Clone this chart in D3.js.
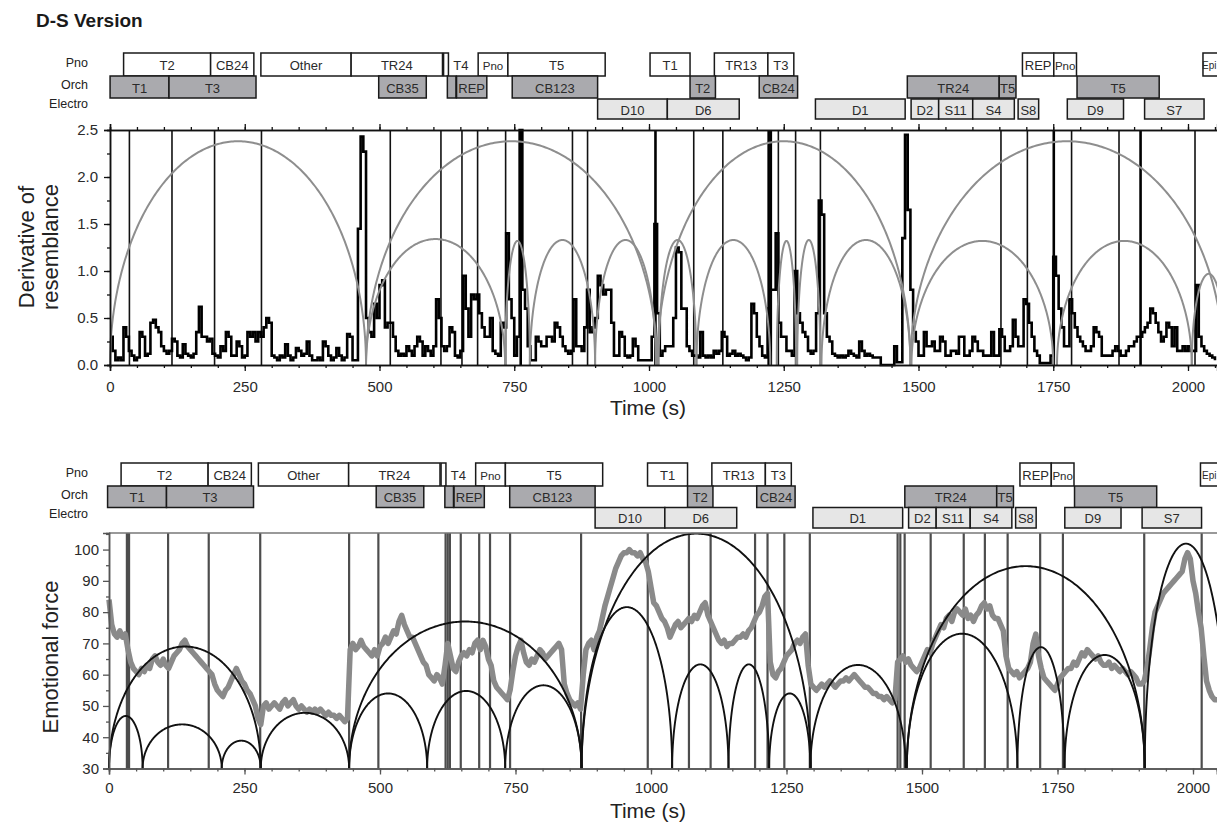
<!DOCTYPE html>
<html>
<head>
<meta charset="utf-8">
<script src="https://cdn.jsdelivr.net/npm/d3@7"></script>
<style>
  html, body { margin: 0; padding: 0; background: #fff; }
  svg { display: block; font-family: "Liberation Sans", Arial, sans-serif; }
</style>
</head>
<body>
<svg id="chart" width="1217" height="824"></svg>
<script>
// ---------- data ----------
const timeStep = 5; // seconds between samples

// Derivative of resemblance, one value per 5 s from 0 s
const derivValues = [
  0.3,0.15,0.05,0.08,0.05,0.4,0.3,0.15,0.1,0.05,
  0.08,0.35,0.3,0.1,0.12,0.45,0.48,0.4,0.35,0.2,
  0.15,0.12,0.15,0.28,0.25,0.1,0.08,0.22,0.12,0.1,
  0.08,0.12,0.35,0.62,0.3,0.3,0.25,0.28,0.12,0.1,
  0.08,0.2,0.15,0.35,0.3,0.1,0.1,0.25,0.2,0.08,
  0.1,0.35,0.3,0.35,0.25,0.35,0.3,0.4,0.5,0.45,
  0.1,0.08,0.05,0.1,0.08,0.22,0.1,0.05,0.08,0.18,
  0.15,0.1,0.12,0.25,0.1,0.05,0.05,0.08,0.05,0.25,
  0.2,0.1,0.05,0.08,0.18,0.1,0.05,0.08,0.33,0.3,
  0.05,0.05,1.45,2.43,2.27,0.5,0.35,0.3,0.65,0.5,
  0.85,0.9,0.4,0.45,0.45,0.3,0.15,0.1,0.12,0.1,
  0.2,0.15,0.1,0.2,0.3,0.25,0.1,0.2,0.15,0.1,
  0.2,0.7,0.5,0.2,0.15,0.2,0.4,0.35,0.1,0.08,
  0.15,0.95,0.6,0.3,0.75,0.7,0.75,0.55,0.4,0.3,
  0.3,0.5,0.15,0.12,0.1,0.45,0.4,1.4,0.7,0.5,
  0.1,0.3,2.5,0.8,0.6,0.2,0.05,0.05,0.3,0.25,
  0.2,0.2,0.3,0.3,0.25,0.45,0.4,0.3,0.2,0.15,
  0.12,0.15,0.7,0.2,0.2,0.15,0.4,0.8,0.35,0.4,
  0.5,0.95,0.85,0.75,0.8,0.8,0.45,0.1,0.1,0.35,
  0.3,0.1,0.08,0.1,0.28,0.2,0.05,0.05,0.05,0.05,
  0.05,0.3,1.5,0.55,0.1,0.15,0.2,0.2,0.2,0.5,
  1.25,1.2,0.6,0.6,0.2,0.15,0.1,0.1,0.08,0.35,
  0.1,0.08,0.1,0.08,0.15,0.12,0.15,0.35,0.3,0.1,
  0.12,0.15,0.1,0.12,0.1,0.08,0.05,0.08,0.65,0.55,
  0.3,0.2,0.1,0.08,0.6,0.8,0.8,1.4,0.45,0.3,
  0.3,0.15,0.15,0.1,1.0,0.55,0.45,0.35,0.3,0.15,
  0.12,0.15,0.55,1.75,1.6,0.55,0.3,0.25,0.12,0.1,
  0.08,0.1,0.08,0.1,0.15,0.12,0.1,0.08,0.25,0.15,
  0.1,0.12,0.1,0.08,0.08,0.08,0,0,0,0,
  0,0.2,0.03,0.03,1.35,2.45,1.65,0.8,0.35,0.25,
  0.1,0.1,0.35,0.2,0.2,0.25,0.15,0.15,0.3,0.25,
  0.1,0.1,0.15,0.15,0.12,0.3,0.3,0.1,0.1,0.15,
  0.3,0.25,0.15,0.15,0.1,0.1,0.1,0.35,0.1,0.1,
  0.38,0.3,0.15,0.15,0.2,0.48,0.3,0.2,0.2,0.7,
  0.65,0.45,0.3,0.15,0.1,0.02,0.02,0.02,0.02,0.1,
  1.15,0.95,0.6,0.4,0.2,0.2,0.7,0.55,0.4,0.3,
  0.25,0.2,0.15,0.15,0.2,0.4,0.35,0.3,0.1,0.1,
  0.1,0.1,0.15,0.2,0.15,0.1,0.1,0.15,0.2,0.2,
  0.25,0.3,0.3,0.35,0.4,0.45,0.6,0.55,0.45,0.35,
  0.25,0.3,0.45,0.4,0.2,0.4,0.15,0.15,0.2,0.15,
  0.2,0.15,0.15,0.85,0.3,0.2,0.15,0.12,0.1,0.08,
  0.05
];

// Emotional force, one value per 5 s from 0 s
const forceValues = [
  84,76,73,72,74,72,73,68,64,62,
  61,60,62,61,63,62,65,66,64,63,
  65,63,62,64,66,67,68,70,71,69,
  68,67,66,65,64,63,62,61,60,57,
  55,54,53,55,56,58,60,62,60,58,
  57,55,54,52,50,46,44,50,51,49,
  50,51,50,49,51,52,50,51,52,50,
  49,50,49,48,49,48,49,48,49,48,
  47,48,47,47,46,47,46,45,46,68,
  70,68,69,71,69,68,67,66,68,66,
  69,70,72,70,72,74,73,77,79,76,
  74,72,72,70,68,66,64,63,60,59,
  58,60,59,57,63,70,66,62,61,64,
  66,67,66,68,67,70,71,68,71,69,
  65,63,58,56,55,54,53,52,55,61,
  66,69,71,67,64,63,65,64,66,68,
  67,65,66,67,68,69,70,68,57,54,
  52,51,50,51,49,60,68,70,71,68,
  72,74,78,82,85,88,91,94,96,98,
  99,99,100,99,99,98,99,97,96,93,
  88,83,82,80,78,77,75,72,74,76,
  77,75,76,77,78,77,79,78,80,82,
  83,79,77,75,73,71,70,71,69,70,
  70,71,72,72,73,72,74,75,77,79,
  80,82,85,86,64,60,59,61,62,64,
  66,67,68,70,71,70,72,73,63,57,
  56,55,56,57,56,57,58,57,56,57,
  58,58,59,58,59,60,59,58,57,56,
  56,55,54,54,53,53,52,53,52,51,
  52,64,65,66,64,65,63,62,61,62,
  64,66,68,67,70,72,74,76,75,78,
  79,77,80,81,80,79,81,78,79,77,
  79,80,82,83,81,82,79,78,78,76,
  74,66,62,61,60,61,59,60,61,62,
  64,70,73,66,62,59,58,57,56,55,
  57,59,60,61,62,62,64,63,65,67,
  66,68,67,66,65,66,64,63,63,64,
  62,63,62,61,62,61,60,61,60,59,
  57,57,58,62,68,75,80,82,84,86,
  87,88,89,90,91,92,93,97,99,97,
  90,86,80,75,66,58,55,53,52,52,
  52
];

// Section boundaries (s)
const derivBoundaries = [36, 115, 194, 281, 520, 614, 653, 682, 734, 858, 886, 1083, 1137, 1240, 1272, 1318, 1653, 1702, 1784, 1872, 2013];
const derivBoldBoundaries = [762, 1012, 1222, 1226, 1751, 1912];
const forceBoundaries = [33, 37, 109, 184, 279, 443, 497, 621, 625, 629, 649, 683, 703, 740, 871, 994, 1070, 1110, 1192, 1215, 1246, 1293, 1455, 1460, 1468, 1516, 1577, 1616, 1658, 1718, 1760, 1910, 2016];

// Arcs: [start s, end s, peak value]
const derivArcsLarge = [[0, 475, 2.38], [475, 1015, 2.38], [1015, 1485, 2.38], [1485, 2066, 2.38]];
const derivArcsSmall = [[475, 733, 1.34], [733, 779, 1.32], [779, 900, 1.33], [900, 1013, 1.33],
  [1018, 1088, 1.33], [1088, 1225, 1.33], [1237, 1273, 1.32], [1275, 1318, 1.33], [1320, 1485, 1.33],
  [1487, 1750, 1.32], [1757, 2007, 1.32], [2007, 2070, 0.97]];
const forceArcs = [[0, 280, 69], [0, 62, 46.8], [62, 208, 44.1], [208, 280, 38.9], [280, 443, 47.8],
  [443, 872, 77], [443, 587, 54], [587, 731, 54.8], [731, 872, 56.6],
  [872, 1295, 105.1], [872, 1039, 81.6], [1039, 1143, 63.3], [1143, 1218, 63.3], [1218, 1294, 54], [1294, 1470, 63.1],
  [1472, 1911, 94.7], [1472, 1676, 73.1], [1676, 1763, 68.8], [1763, 1911, 66.3], [1911, 2063, 101.9]];

// Instrument sections: [label, start s, end s]
const pnoSegments = [["T2", 27, 188], ["CB24", 188, 268], ["Other", 281, 448], ["TR24", 448, 617], ["", 619, 628],
  ["Pno", 683, 738], ["T5", 738, 918], ["T1", 1001, 1075], ["TR13", 1120, 1219], ["T3", 1219, 1267],
  ["REP", 1690, 1748], ["Pno", 1748, 1790], ["Epi", 2024, 2090]];
const pnoFreeLabels = [["T4", 651]];
const orchSegments = [["T1", 2, 111], ["T3", 111, 272], ["CB35", 499, 587], ["", 626, 642], ["REP", 643, 699],
  ["CB123", 746, 904], ["T2", 1075, 1122], ["CB24", 1203, 1274], ["TR24", 1477, 1647], ["T5", 1647, 1678],
  ["T5", 1791, 1943]];
const electroSegments = [["D10", 904, 1033], ["D6", 1033, 1166], ["D1", 1307, 1473], ["D2", 1484, 1535],
  ["S11", 1535, 1598], ["S4", 1598, 1675], ["S8", 1682, 1720], ["D9", 1773, 1877], ["S7", 1916, 2026]];

const rowNames = ["Pno", "Orch", "Electro"];
const xTicks = [0, 250, 500, 750, 1000, 1250, 1500, 1750, 2000];
const derivTicks = [0, 0.5, 1.0, 1.5, 2.0, 2.5];
const forceTicks = [30, 40, 50, 60, 70, 80, 90, 100];

// ---------- drawing ----------
const svg = d3.select("#chart");
const W = 1217;
const FONT = '"Liberation Sans", Arial, sans-serif';

svg.append("text").attr("x", 36).attr("y", 27)
  .attr("font-size", 19).attr("font-weight", "bold").attr("fill", "#1a1a1a")
  .text("D-S Version");

function arcPoints(a, b, peak, base) {
  const c = (a + b) / 2, w = (b - a) / 2, h = peak - base;
  return d3.range(0, 241).map(i => {
    const th = Math.PI - i * Math.PI / 240;
    return [c + w * Math.cos(th), base + h * Math.sin(th)];
  });
}

function drawStrip(g, sx, rows) {
  const fills = ["#ffffff", "#aaaaae", "#e6e6e6"];
  const sets = [pnoSegments, orchSegments, electroSegments];
  sets.forEach((segs, r) => {
    const row = rows[r];
    g.append("text").attr("x", 88).attr("y", row.label)
      .attr("text-anchor", "end").attr("dominant-baseline", "central")
      .attr("font-size", 12.5).attr("fill", "#222").text(rowNames[r]);
    const sel = g.selectAll(null).data(segs).enter().append("g");
    sel.append("rect")
      .attr("x", d => sx(d[1])).attr("y", row.y0)
      .attr("width", d => sx(d[2]) - sx(d[1])).attr("height", row.y1 - row.y0)
      .attr("fill", fills[r]).attr("stroke", "#1a1a1a").attr("stroke-width", 1.5);
    // a section running past the right edge gets its label pinned to the page edge
    sel.append("text")
      .attr("x", d => sx(d[2]) > W ? W - 0.5 : (sx(d[1]) + sx(d[2])) / 2)
      .attr("text-anchor", d => sx(d[2]) > W ? "end" : "middle")
      .attr("y", (row.y0 + row.y1) / 2 + 1).attr("dominant-baseline", "central")
      .attr("font-size", d => d[0] === "Pno" ? 11.5 : (sx(d[2]) > W ? 10 : 13)).attr("fill", "#2a2a2a")
      .text(d => d[0]);
  });
  g.selectAll(null).data(pnoFreeLabels).enter().append("text")
    .attr("x", d => sx(d[1])).attr("y", (rows[0].y0 + rows[0].y1) / 2 + 1)
    .attr("text-anchor", "middle").attr("dominant-baseline", "central")
    .attr("font-size", 13).attr("fill", "#2a2a2a").text(d => d[0]);
}

function styleAxis(g, color, fontSize) {
  g.selectAll("path.domain").attr("stroke", color).attr("stroke-width", 1.5);
  g.selectAll(".tick line").attr("stroke", color).attr("stroke-width", 1.3);
  g.selectAll(".tick text").attr("fill", "#2a2a2a").attr("font-size", fontSize).attr("font-family", FONT);
}

// ===== Panel 1: derivative of resemblance =====
{
  const x = d3.scaleLinear().domain([0, 2054]).range([110, 110 + 2054 * 0.539]);
  const y = d3.scaleLinear().domain([0, 2.5]).range([365, 130]);
  const sx = d3.scaleLinear().domain([0, 2000]).range([109, 109 + 2000 * 0.5405]);
  const g = svg.append("g");

  drawStrip(g, sx, [
    { y0: 53, y1: 76, label: 63 },
    { y0: 76, y1: 98, label: 85 },
    { y0: 99, y1: 119, label: 103.5 }
  ]);

  // section boundaries
  g.selectAll(null).data(derivBoundaries).enter().append("line")
    .attr("x1", d => x(d)).attr("x2", d => x(d)).attr("y1", y(2.5)).attr("y2", y(0))
    .attr("stroke", "#111").attr("stroke-width", 1.6);
  g.selectAll(null).data(derivBoldBoundaries).enter().append("line")
    .attr("x1", d => x(d)).attr("x2", d => x(d)).attr("y1", y(2.5)).attr("y2", y(0))
    .attr("stroke", "#000").attr("stroke-width", 2.6);

  // step series
  const pts = derivValues.map((v, i) => [i * timeStep, v]);
  g.append("path").datum(pts)
    .attr("d", d3.line().curve(d3.curveStepAfter).x(d => x(d[0])).y(d => y(d[1])))
    .attr("fill", "none").attr("stroke", "#000").attr("stroke-width", 2.6)
    .attr("stroke-linejoin", "miter");

  // arcs
  const arcLine = d3.line().x(d => x(d[0])).y(d => y(d[1]));
  g.selectAll(null).data(derivArcsLarge.concat(derivArcsSmall)).enter().append("path")
    .attr("d", d => arcLine(arcPoints(d[0], d[1], d[2], 0)))
    .attr("fill", "none").attr("stroke", "#8e8e8e").attr("stroke-width", 2);

  // axes
  const ax = g.append("g").attr("transform", `translate(0,${y(0)})`)
    .call(d3.axisBottom(x).tickValues(xTicks).tickSize(6).tickPadding(10).tickFormat(d3.format("d")));
  styleAxis(ax, "#111", 15);
  const axm = g.append("g").attr("transform", `translate(0,${y(0)})`)
    .call(d3.axisBottom(x).tickValues(d3.range(0, 2051, 50)).tickSize(3).tickFormat(""));
  styleAxis(axm, "#111", 15);
  const at = g.append("g").attr("transform", `translate(0,${y(2.5)})`)
    .call(d3.axisTop(x).tickValues(xTicks).tickSize(6).tickFormat(""));
  styleAxis(at, "#111", 15);
  const atm = g.append("g").attr("transform", `translate(0,${y(2.5)})`)
    .call(d3.axisTop(x).tickValues(d3.range(0, 2051, 50)).tickSize(3).tickFormat(""));
  styleAxis(atm, "#111", 15);
  const ay = g.append("g").attr("transform", `translate(${x(0)},0)`)
    .call(d3.axisLeft(y).tickValues(derivTicks).tickSize(6).tickPadding(6).tickFormat(d3.format(".1f")));
  styleAxis(ay, "#111", 15);
  const aym = g.append("g").attr("transform", `translate(${x(0)},0)`)
    .call(d3.axisLeft(y).tickValues(d3.range(0, 2.51, 0.25)).tickSize(3).tickFormat(""));
  styleAxis(aym, "#111", 15);

  g.append("text").attr("x", 648).attr("y", 415).attr("text-anchor", "middle")
    .attr("font-size", 21).attr("fill", "#222").text("Time (s)");
  const yt = g.append("text").attr("transform", "translate(0,247) rotate(-90)")
    .attr("text-anchor", "middle").attr("font-size", 22).attr("fill", "#222");
  yt.append("tspan").attr("x", 0).attr("y", 34).text("Derivative of");
  yt.append("tspan").attr("x", 0).attr("y", 58).text("resemblance");
}

// ===== Panel 2: emotional force =====
{
  const x = d3.scaleLinear().domain([0, 2044]).range([109, 109 + 2044 * 0.542]);
  const y = d3.scaleLinear().domain([30, 105.3]).range([768.5, 533]);
  const sx = d3.scaleLinear().domain([0, 2000]).range([106.5, 106.5 + 2000 * 0.5405]);
  const g = svg.append("g");

  drawStrip(g, sx, [
    { y0: 463, y1: 486, label: 472.5 },
    { y0: 486, y1: 507.5, label: 494.5 },
    { y0: 507.5, y1: 528, label: 514 }
  ]);

  g.selectAll(null).data(forceBoundaries).enter().append("line")
    .attr("x1", d => x(d)).attr("x2", d => x(d)).attr("y1", y(105.3)).attr("y2", y(30))
    .attr("stroke", "#4d4d4d").attr("stroke-width", 2.2);

  const pts = forceValues.map((v, i) => [i * timeStep, v]);
  g.append("path").datum(pts)
    .attr("d", d3.line().x(d => x(d[0])).y(d => y(d[1])))
    .attr("fill", "none").attr("stroke", "#8a8a8a").attr("stroke-width", 5.5)
    .attr("stroke-linejoin", "round");

  const arcLine = d3.line().x(d => x(d[0])).y(d => y(d[1]));
  g.selectAll(null).data(forceArcs).enter().append("path")
    .attr("d", d => arcLine(arcPoints(d[0], d[1], d[2], 30)))
    .attr("fill", "none").attr("stroke", "#111").attr("stroke-width", 1.9);

  // frame top
  g.append("line").attr("x1", x(0)).attr("x2", W).attr("y1", y(105.3)).attr("y2", y(105.3))
    .attr("stroke", "#777").attr("stroke-width", 1.6);

  const ax = g.append("g").attr("transform", `translate(0,${y(30)})`)
    .call(d3.axisBottom(x).tickValues(xTicks).tickSize(6).tickPadding(8).tickFormat(d3.format("d")));
  styleAxis(ax, "#555", 15);
  const axm = g.append("g").attr("transform", `translate(0,${y(30)})`)
    .call(d3.axisBottom(x).tickValues(d3.range(0, 2041, 50)).tickSize(3).tickFormat(""));
  styleAxis(axm, "#555", 15);
  const ay = g.append("g").attr("transform", `translate(${x(0)},0)`)
    .call(d3.axisLeft(y).tickValues(forceTicks).tickSize(6).tickPadding(4).tickFormat(d3.format("d")));
  styleAxis(ay, "#555", 15);
  const aym = g.append("g").attr("transform", `translate(${x(0)},0)`)
    .call(d3.axisLeft(y).tickValues(d3.range(35, 106, 10)).tickSize(3).tickFormat(""));
  styleAxis(aym, "#555", 15);

  g.append("text").attr("x", 648).attr("y", 818).attr("text-anchor", "middle")
    .attr("font-size", 21).attr("fill", "#222").text("Time (s)");
  g.append("text").attr("transform", "translate(58,657) rotate(-90)")
    .attr("text-anchor", "middle").attr("font-size", 22).attr("fill", "#222")
    .text("Emotional force");
}
</script>
</body>
</html>
